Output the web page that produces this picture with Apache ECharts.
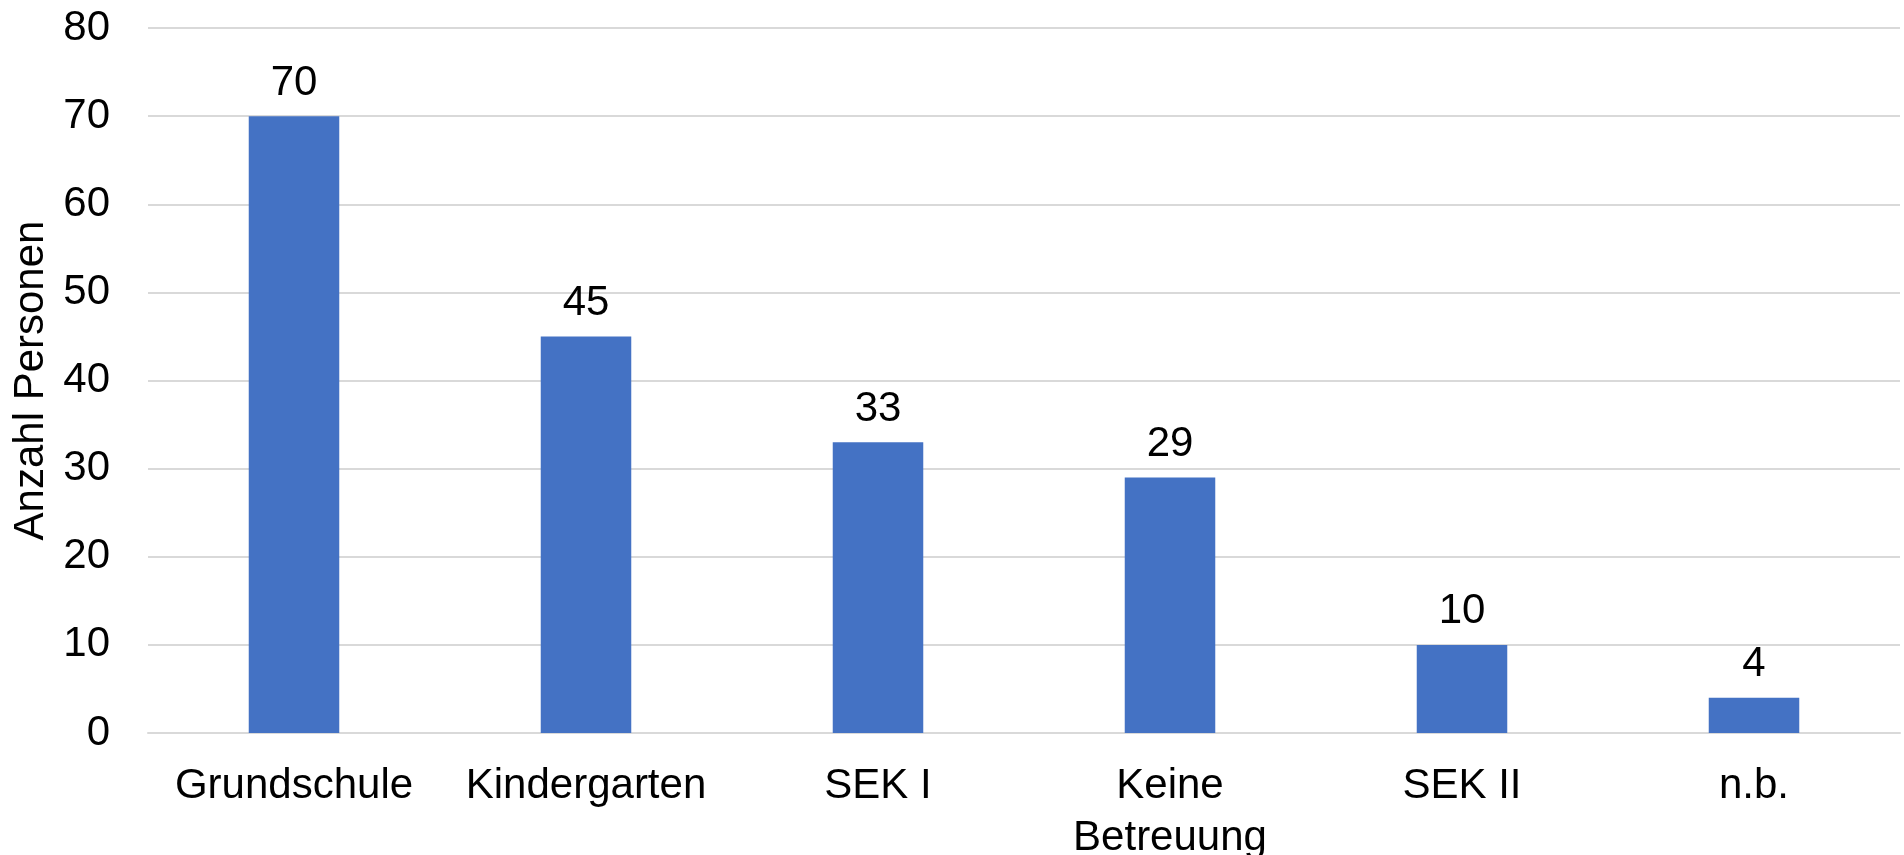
<!DOCTYPE html>
<html>
<head>
<meta charset="utf-8">
<script src="https://cdn.jsdelivr.net/npm/echarts@6/dist/echarts.min.js"></script>
<style>
  html, body { margin: 0; padding: 0; background: #fff; }
  #chart { width: 1904px; height: 855px; }
</style>
</head>
<body>
<div id="chart"></div>
<script>
// Daten
var categories = ["Grundschule", "Kindergarten", "SEK I", "Keine\nBetreuung", "SEK II", "n.b."];
var personen = [70, 45, 33, 29, 10, 4];
var yTicks = [0, 10, 20, 30, 40, 50, 60, 70, 80];

var fontFam = "Liberation Sans, Arial, sans-serif";
var myChart = echarts.init(document.getElementById("chart"));
var option = {
  backgroundColor: "#ffffff",
  animation: false,
  grid: {
    left: 148,
    right: 4,
    top: 28,
    bottom: 122,
    outerBoundsMode: "none"
  },
  xAxis: {
    type: "category",
    data: categories,
    axisLine: { show: true, lineStyle: { color: "#d9d9d9", width: 2 } },
    axisTick: { show: false },
    axisLabel: {
      color: "#000",
      fontSize: 42,
      fontFamily: fontFam,
      lineHeight: 52,
      margin: 27,
      interval: 0
    }
  },
  yAxis: {
    type: "value",
    min: yTicks[0],
    max: yTicks[yTicks.length - 1],
    interval: 10,
    name: "Anzahl Personen",
    nameLocation: "middle",
    nameGap: 94,
    nameTextStyle: { color: "#000", fontSize: 42, fontFamily: fontFam },
    axisLine: { show: false },
    axisTick: { show: false },
    splitLine: { lineStyle: { color: "#d9d9d9", width: 2 } },
    axisLabel: {
      color: "#000",
      fontSize: 42,
      fontFamily: fontFam,
      margin: 38
    }
  },
  series: [
    {
      name: "Anzahl Personen",
      type: "bar",
      data: personen,
      barWidth: "31%",
      itemStyle: { color: "#4472c4" },
      label: {
        show: true,
        position: "top",
        distance: 12,
        color: "#000",
        fontSize: 42,
        fontFamily: fontFam
      }
    }
  ]
};
myChart.setOption(option);
</script>
</body>
</html>
